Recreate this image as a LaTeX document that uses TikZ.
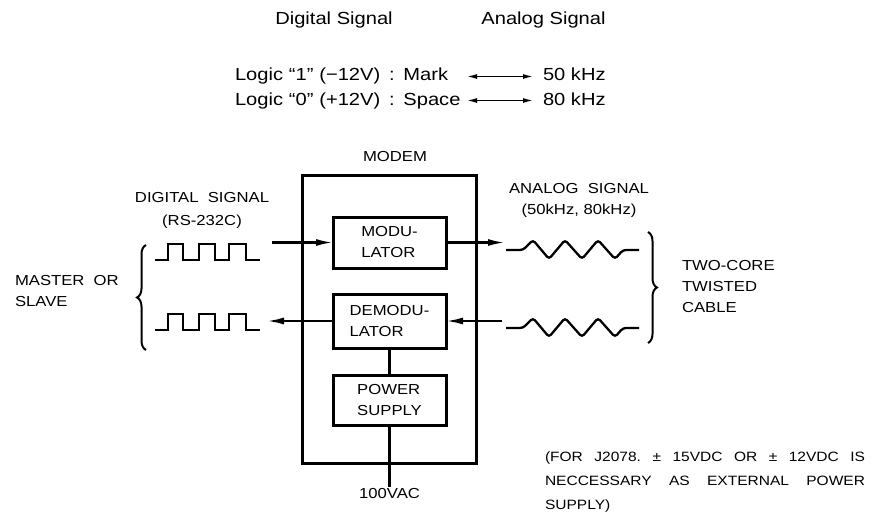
\documentclass[tikz,border=0pt]{standalone}
\usepackage{fontspec}
\newfontfamily\scanfont{Liberation Sans}[FakeStretch=1.15]
\usetikzlibrary{arrows.meta, positioning, decorations.pathreplacing}

\begin{document}
\begin{tikzpicture}[
    x=1pt, y=-1pt,
    every node/.style = {inner sep=0pt, outer sep=0pt},
    head/.style     = {font=\scanfont\fontsize{17.5}{25}\selectfont,
                       text height=13pt, text depth=4pt},
    lbl/.style      = {font=\scanfont\fontsize{14.5}{21}\selectfont, align=center},
    lbll/.style     = {lbl, align=left},
    note/.style     = {font=\scanfont\fontsize{13.5}{24}\selectfont\frenchspacing,
                       text width=320pt, align=justify},
    blk/.style      = {rectangle, draw, line width=3pt, minimum width=113pt,
                       lbl, align=left},
    modembox/.style = {rectangle, draw, line width=3pt,
                       minimum width=174pt, minimum height=288pt},
    arr/.style      = {-{Latex[length=17pt,width=7pt]}, line width=2.2pt},
    dbl/.style      = {{Latex[length=10pt,width=5pt]}-{Latex[length=10pt,width=5pt]},
                       line width=1.4pt},
    wire/.style     = {line width=2.4pt},
    sq/.style       = {line width=2.3pt, line join=miter},
    sine/.style     = {line width=2.3pt, rounded corners=3pt},
    brc/.style      = {decorate, decoration={brace, amplitude=9pt}, line width=2pt}
]
\useasboundingbox (0,0) rectangle (878,519);

% ========= legend on top =========
\node[head]                 (dighead) at (334,20)   {Digital Signal};
\node[head]                 (anhead)  at (543.5,20) {Analog Signal};
\node[head, anchor=west, text width=232pt, align=left] (logic1) at (235,76.5)
    {Logic “1”\,\,(−12V)\, :\, Mark};
\node[head, anchor=west, text width=232pt, align=left] (logic0) at (235,100.5)
    {Logic “0”\,\,(+12V)\, :\, Space};
\node[head, anchor=west, inner xsep=10pt] (khz50) at (533,76.5)  {50 kHz};
\node[head, anchor=west, inner xsep=10pt] (khz80) at (533,100.5) {80 kHz};

\draw[dbl] (logic1) -- (khz50);
\draw[dbl] (logic0) -- (khz80);

% ========= modem =========
\node[modembox]                 (modem) at (389,319)     {};
\node[lbl]                      (modemlbl) at (395,157)  {MODEM};
\node[blk, minimum height=51pt] (mod)   at (389.5,242.5) {MODU-\\LATOR};
\node[blk, minimum height=54pt] (demod) at (389.5,321)   {DEMODU-\\LATOR};
\node[blk, minimum height=50pt] (pwr)   at (389.5,400)   {POWER\\SUPPLY};
\node[lbl, outer sep=2pt]       (vac)   at (389.5,494)   {100VAC};

\draw[wire] (demod) -- (pwr);
\draw[wire] (pwr)   -- (vac);

% ========= signal ends =========
\coordinate (dinA)  at (272,242.5);
\coordinate (aoutA) at (505,242.5);
\coordinate (ainB)  at (502,321);
\coordinate (doutB) at (267,321);

\draw[arr] (dinA)  -- (mod);
\draw[arr] (mod)   -- (aoutA);
\draw[arr] (ainB)  -- (demod);
\draw[arr] (demod) -- (doutB);

% square waves (RS-232C side)
\foreach \b in {260,330}
  \draw[sq] (155,\b) -- ++(13,0) -- ++(0,-16) -- ++(15,0) -- ++(0,16)
            -- ++(16,0) -- ++(0,-16) -- ++(16,0) -- ++(0,16)
            -- ++(14,0) -- ++(0,-16) -- ++(17,0) -- ++(0,16) -- ++(14,0);

% carrier waves (cable side)
\foreach \b in {250,328}
  \draw[sine] (506,\b) -- (523,\b) -- ++(10,-10) -- ++(16,19) -- ++(16,-19)
              -- ++(17,19) -- ++(16,-19) -- ++(17,19) -- ++(8,-9) -- (639,\b);

% ========= braces and side labels =========
\draw[brc] (146,350) -- (146,245);
\draw[brc] (648,232) -- (648,343);

\node[lbll, anchor=west] (master) at (15,291)  {MASTER\ \ OR\\SLAVE};
\node[lbll, anchor=west] (cable)  at (682,287) {TWO-CORE\\TWISTED\\CABLE};
\node[lbl] (diglbl) at (202,210.5) {DIGITAL\ \ SIGNAL\\[2pt](RS-232C)};
\node[lbl] (anlbl)  at (579,200)   {ANALOG\ \ SIGNAL\\(50kHz, 80kHz)};

% ========= power note =========
\node[note, anchor=north west] (pwrnote) at (545,452)
    {(FOR J2078. ± 15VDC OR ± 12VDC IS\linebreak
     NECCESSARY AS EXTERNAL POWER\linebreak
     SUPPLY)};
\end{tikzpicture}
\end{document}
